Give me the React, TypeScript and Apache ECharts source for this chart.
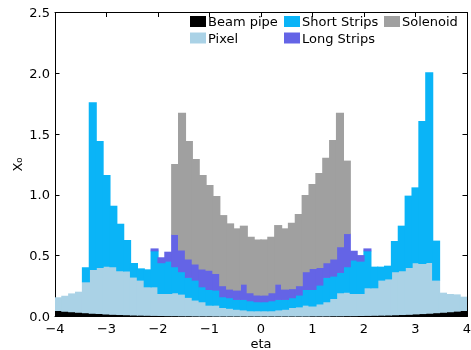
import React, { useEffect, useRef } from "react";
import * as echarts from "echarts";

// Histogram binning in eta
const etaMin = -4;
const etaMax = 4;
const nBins = 60;

// Material budget per component (X0), 60 bins from -4 to 4
const beamPipe = [
  0.05, 0.045, 0.04, 0.036, 0.032, 0.028, 0.025, 0.022, 0.019, 0.017,
  0.015, 0.013, 0.012, 0.011, 0.01, 0.009, 0.008, 0.008, 0.007, 0.007,
  0.006, 0.006, 0.006, 0.005, 0.005, 0.005, 0.005, 0.005, 0.005, 0.005,
  0.005, 0.005, 0.005, 0.005, 0.005, 0.005, 0.005, 0.006, 0.006, 0.006,
  0.007, 0.007, 0.008, 0.008, 0.009, 0.01, 0.011, 0.012, 0.013, 0.015,
  0.017, 0.019, 0.022, 0.025, 0.028, 0.032, 0.036, 0.04, 0.045, 0.05,
];
const pixel = [
  0.108, 0.126, 0.15, 0.168, 0.254, 0.36, 0.379, 0.393, 0.391, 0.36,
  0.359, 0.312, 0.288, 0.234, 0.235, 0.181, 0.182, 0.188, 0.178, 0.151,
  0.13, 0.116, 0.088, 0.089, 0.07, 0.063, 0.055, 0.05, 0.043, 0.043,
  0.043, 0.043, 0.05, 0.055, 0.07, 0.075, 0.089, 0.081, 0.098, 0.116,
  0.142, 0.189, 0.192, 0.182, 0.181, 0.227, 0.226, 0.288, 0.297, 0.354,
  0.36, 0.385, 0.421, 0.412, 0.417, 0.268, 0.16, 0.145, 0.137, 0.113,
];
const shortStrips = [
  0, 0, 0, 0, 0.119, 1.373, 1.039, 0.749, 0.501, 0.386,
  0.255, 0.115, 0.096, 0.143, 0.296, 0.253, 0.266, 0.214, 0.184, 0.164,
  0.164, 0.123, 0.129, 0.124, 0.088, 0.087, 0.081, 0.086, 0.082, 0.074,
  0.074, 0.082, 0.086, 0.081, 0.08, 0.097, 0.129, 0.136, 0.155, 0.2,
  0.184, 0.167, 0.21, 0.275, 0.266, 0.304, 0.173, 0.11, 0.108, 0.252,
  0.37, 0.59, 0.619, 1.171, 1.563, 0.324, 0, 0, 0, 0,
];
const longStrips = [
  0, 0, 0, 0, 0, 0, 0, 0, 0, 0,
  0, 0, 0, 0, 0.019, 0.044, 0.077, 0.266, 0.178, 0.151,
  0.132, 0.146, 0.159, 0.137, 0.091, 0.071, 0.077, 0.126, 0.066, 0.055,
  0.055, 0.066, 0.126, 0.085, 0.075, 0.077, 0.146, 0.173, 0.145, 0.121,
  0.14, 0.211, 0.273, 0.076, 0.049, 0.019, 0, 0, 0, 0,
  0, 0, 0, 0, 0, 0, 0, 0, 0, 0,
];
const solenoid = [
  0, 0, 0, 0, 0, 0, 0, 0, 0, 0,
  0, 0, 0, 0, 0, 0, 0, 0.578, 1.129, 0.97,
  0.863, 0.773, 0.699, 0.636, 0.58, 0.54, 0.507, 0.48, 0.46, 0.457,
  0.457, 0.46, 0.485, 0.499, 0.541, 0.589, 0.63, 0.694, 0.776, 0.863,
  0.979, 1.102, 0.599, 0, 0, 0, 0, 0, 0, 0,
  0, 0, 0, 0, 0, 0, 0, 0, 0, 0,
];

const layerNames = ["Beam pipe", "Pixel", "Short Strips", "Long Strips", "Solenoid"];
const layerValues = [beamPipe, pixel, shortStrips, longStrips, solenoid];
const layerColors = ["#000000", "#aad2e6", "#0ab4f7", "#6464e6", "#a0a0a0"];

const xTicks = [-4, -3, -2, -1, 0, 1, 2, 3, 4];
const yTicks = [0, 0.5, 1.0, 1.5, 2.0, 2.5];

const FONT = "DejaVu Sans";

function fmtX(v: number) {
  if (v < 0) return "\u2212" + Math.abs(v);
  return String(v);
}

export default function App() {
  const ref = useRef<HTMLDivElement>(null);
  useEffect(() => {
    if (!ref.current) return;
    const chart = echarts.init(ref.current, null, { renderer: "svg" });
    const binW = (etaMax - etaMin) / nBins;
    const cum = new Array(nBins).fill(0);
    const series: any[] = layerNames.map((name, li) => {
      const vals = layerValues[li];
      const data: number[][] = [];
      for (let i = 0; i < nBins; i++) {
        const base = cum[i];
        const top = base + vals[i];
        if (vals[i] > 0) data.push([etaMin + i * binW, etaMin + (i + 1) * binW, base, top, i]);
        cum[i] = top;
      }
      const color = layerColors[li];
      return {
        name,
        type: "custom",
        xAxisIndex: 0,
        yAxisIndex: 0,
        itemStyle: { color },
        encode: { x: [0, 1], y: [2, 3] },
        renderItem: (params: any, api: any) => {
          const p0 = api.coord([api.value(0), api.value(2)]);
          const p1 = api.coord([api.value(1), api.value(3)]);
          const bin = api.value(4);
          // overlap neighbours slightly to avoid anti-aliasing seams
          const padL = bin > 0 ? 0.6 : 0;
          const padR = bin < nBins - 1 ? 0.6 : 0;
          const padB = api.value(2) > 0 ? 0.6 : 0;
          return {
            type: "rect",
            shape: {
              x: p0[0] - padL,
              y: p1[1],
              width: p1[0] - p0[0] + padL + padR,
              height: p0[1] - p1[1] + padB,
            },
            style: { fill: color },
          };
        },
        data,
      };
    });

    const tickStyle = { show: true, inside: true, length: 4.5, lineStyle: { color: "#000", width: 1 } };
    const lineStyle = { show: true, onZero: false, lineStyle: { color: "#000", width: 1 } };

    chart.setOption({
      animation: false,
      textStyle: { fontFamily: FONT },
      grid: { left: 55, right: 4, top: 12.5, bottom: 33.5, outerBoundsMode: "none" },
      legend: [
        { data: ["Beam pipe", "Pixel"], orient: "vertical" },
        { data: ["Short Strips", "Long Strips"], orient: "vertical" },
        { data: ["Solenoid"], orient: "vertical" },
      ].map((l, i) => ({
        ...l,
        left: [190, 284, 384][i],
        top: 15,
        padding: 0,
        itemGap: 3.5,
        itemWidth: 16,
        itemHeight: 11,
        icon: "rect",
        selectedMode: false,
        textStyle: { fontFamily: FONT, fontSize: 13, color: "#000", padding: [0, 0, 0, -3] },
      })),
      xAxis: [
        {
          type: "value",
          min: etaMin,
          max: etaMax,
          interval: 1,
          axisLine: lineStyle,
          axisTick: tickStyle,
          splitLine: { show: false },
          axisLabel: {
            color: "#000",
            fontSize: 13,
            fontFamily: FONT,
            margin: 5,
            formatter: (v: number) => (xTicks.includes(v) ? fmtX(v) : ""),
          },
          name: "eta",
          nameLocation: "middle",
          nameGap: 20,
          nameMoveOverlap: false,
          nameTextStyle: { color: "#000", fontSize: 13, fontFamily: FONT, verticalAlign: "top" },
        },
        {
          type: "value",
          position: "top",
          min: etaMin,
          max: etaMax,
          interval: 1,
          axisLine: lineStyle,
          axisTick: tickStyle,
          axisLabel: { show: false },
          splitLine: { show: false },
        },
      ],
      yAxis: [
        {
          type: "value",
          min: 0,
          max: 2.5,
          interval: 0.5,
          axisLine: lineStyle,
          axisTick: tickStyle,
          splitLine: { show: false },
          axisLabel: {
            color: "#000",
            fontSize: 13,
            fontFamily: FONT,
            margin: 5,
            formatter: (v: number) => (yTicks.includes(v) ? v.toFixed(1) : ""),
          },
          name: "X\u2080",
          nameLocation: "middle",
          nameGap: 31,
          nameMoveOverlap: false,
          nameTextStyle: { color: "#000", fontSize: 13, fontFamily: FONT },
        },
        {
          type: "value",
          position: "right",
          min: 0,
          max: 2.5,
          interval: 0.5,
          axisLine: lineStyle,
          axisTick: tickStyle,
          axisLabel: { show: false },
          splitLine: { show: false },
        },
      ],
      series,
    });
    return () => chart.dispose();
  }, []);
  return (
    <div
      ref={ref}
      style={{ position: "fixed", left: 0, top: 0, width: 471, height: 350 }}
    />
  );
}
